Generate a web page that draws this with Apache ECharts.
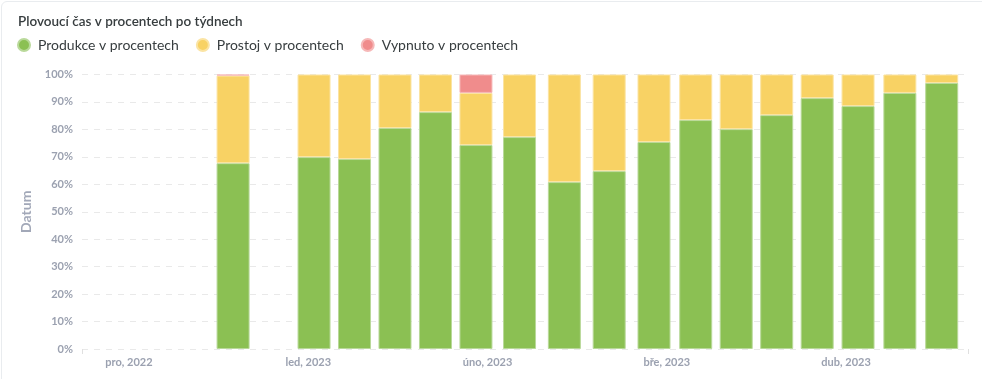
<!DOCTYPE html>
<html>
<head>
<meta charset="utf-8">
<script src="https://cdn.jsdelivr.net/npm/echarts@6/dist/echarts.min.js"></script>
<style>
html,body{margin:0;padding:0;background:#ffffff;}
#card{position:absolute;left:1px;top:1px;width:1000px;height:420px;border:1px solid #e9ecef;border-radius:6px;background:#fff;box-sizing:border-box;}
#chart{position:absolute;left:0;top:0;width:982px;height:379px;}
</style>
</head>
<body>
<div id="card"></div>
<div id="chart"></div>
<script>
// ---- data ----
var weeks = ['2022-12-19','2023-01-02','2023-01-09','2023-01-16','2023-01-23','2023-01-30',
             '2023-02-06','2023-02-13','2023-02-20','2023-02-27','2023-03-06','2023-03-13',
             '2023-03-20','2023-03-27','2023-04-03','2023-04-10','2023-04-17'];
var produkce = [67.7, 69.9, 69.2, 80.5, 86.3, 74.3, 77.2, 60.8, 64.8, 75.4, 83.4, 80.1, 85.2, 91.4, 88.5, 93.3, 96.9];
var prostoj  = [31.9, 30.1, 30.8, 19.5, 13.7, 19.0, 22.8, 39.2, 35.2, 24.6, 16.6, 19.9, 14.8,  8.6, 11.5,  6.7,  3.1];
var vypnuto  = [ 0.4,  0,    0,    0,    0,    6.7,  0,    0,    0,    0,    0,    0,    0,    0,    0,    0,    0  ];
var monthLabels = ['pro, 2022','led, 2023','úno, 2023','bře, 2023','dub, 2023'];

// month-based position (each month same width, as in the reference axis)
var baseYear = 2022, baseMonth = 12;
function monthPos(s){
  var p = s.split('-'), y = +p[0], m = +p[1], d = +p[2];
  var idx = (y - baseYear) * 12 + (m - baseMonth);
  var dim = new Date(y, m, 0).getDate();
  return idx + (d - 1) / dim;
}
// value first, position second (so that stacking happens on the value dimension);
// zero-height segments are left out so they draw nothing
function pairs(vals){
  return weeks.map(function(w,i){ return [vals[i] === 0 ? '-' : vals[i], monthPos(w)]; });
}

var xMin = -0.262, xMax = 4.68;
var font = 'Lato, "Noto Sans", sans-serif';
var chart = echarts.init(document.getElementById('chart'), null, {renderer:'canvas'});
function barSeries(name, vals, color, border){
  return {
    name: name, type: 'bar', stack: 'total', barWidth: 33,
    data: pairs(vals),
    encode: {x: 1, y: 0},
    itemStyle: {color: color, borderColor: border, borderWidth: 1},
    emphasis: {disabled: true}
  };
}
chart.setOption({
  animation: false,
  textStyle: {fontFamily: font},
  title: {
    text: 'Plovoucí čas v procentech po týdnech',
    left: 13, top: 10,
    textStyle: {fontFamily: font, fontSize: 13.5, fontWeight: 600, color: '#373d3f'}
  },
  legend: {
    left: 17, top: 38, padding: 0, icon: 'circle', itemWidth: 12, itemHeight: 12, itemGap: 17,
    textStyle: {fontFamily: font, fontSize: 14, color: '#373d3f', padding: [0,0,0,3]},
    data: ['Produkce v procentech','Prostoj v procentech','Vypnuto v procentech']
  },
  grid: {left: 82, right: 14, top: 74.5, bottom: 30, containLabel: false},
  xAxis: {
    type: 'value', min: xMin, max: xMax,
    axisLine: {show: false},
    splitLine: {show: false},
    axisTick: {show: true, customValues: [xMin, xMax], length: 5, lineStyle: {color: '#e0e0e0'}},
    axisLabel: {
      customValues: [0,1,2,3,4],
      formatter: function(v){ return monthLabels[Math.round(v)] || ''; },
      fontFamily: font, fontSize: 11, fontWeight: 'bold', color: '#9ba1b0', margin: 8
    }
  },
  yAxis: {
    type: 'value', min: 0, max: 100, interval: 10,
    name: 'Datum', nameLocation: 'middle', nameGap: 46, nameRotate: 90,
    nameTextStyle: {fontFamily: font, fontSize: 14, fontWeight: 'bold', color: '#a2a8b8'},
    axisLine: {show: false}, axisTick: {show: false},
    axisLabel: {
      formatter: '{value}%', fontFamily: font, fontSize: 11, fontWeight: 'bold',
      color: '#9ba1b0', margin: 9
    },
    splitLine: {show: true, lineStyle: {color: '#e9e9e9', type: [6,6], width: 1}}
  },
  series: [
    barSeries('Produkce v procentech', produkce, '#8bc053', '#b9d99a'),
    barSeries('Prostoj v procentech', prostoj, '#f8d264', '#fbe4a3'),
    barSeries('Vypnuto v procentech', vypnuto, '#f08c8c', '#f6b8b8')
  ]
});
</script>
</body>
</html>
